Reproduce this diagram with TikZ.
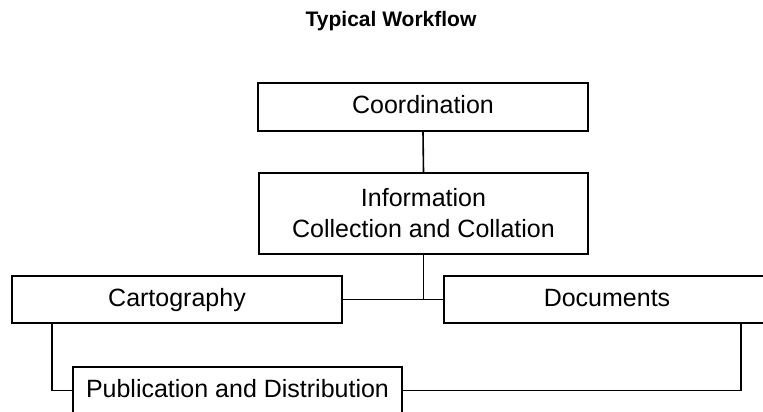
\documentclass[tikz,border=0pt]{standalone}
\usepackage{fontspec}
\setmainfont{Liberation Sans}
\begin{document}
\begin{tikzpicture}[x=1pt,y=-1pt,
  box/.style={draw=black,line width=1.6pt,inner sep=0pt,align=center,
    font=\fontsize{25}{31}\selectfont},
  oneline/.style={box,text height=18pt,text depth=5pt},
  link/.style={draw=black,line width=1.6pt}]
\useasboundingbox (0,0) rectangle (763,412);
\node[anchor=base,font=\bfseries\fontsize{21}{25}\selectfont] (title) at (391,27) {Typical Workflow};
\node[oneline,minimum width=330pt,minimum height=48pt] (coord) at (423,107) {Coordination};
\node[box,minimum width=329pt,minimum height=81pt] (info) at (423.5,213.5) {Information\\Collection and Collation};
\node[oneline,minimum width=330pt,minimum height=47pt] (cart) at (177,299.5) {Cartography};
\node[oneline,minimum width=326pt,minimum height=47pt] (doc) at (607,299.5) {Documents};
\node[oneline,minimum width=329pt,minimum height=47pt] (pub) at (237.5,390.5) {Publication and Distribution};
\draw[link] (coord.south) -- (info.north);
\draw[link] (cart.east) -- (doc.west);
\draw[link] (info.south) -- (info.south |- cart.east);
\draw[link] ([xshift=41pt]cart.south west) |- (pub.west);
\draw[link] ([xshift=-30pt]doc.south east) |- (pub.east);
\end{tikzpicture}
\end{document}
